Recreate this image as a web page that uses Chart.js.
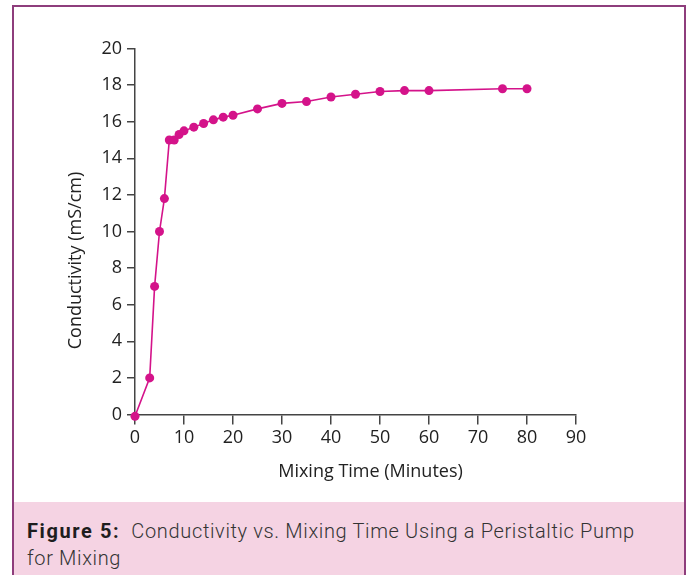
<!DOCTYPE html>
<html>
<head>
<meta charset="utf-8">
<script src="https://cdn.jsdelivr.net/npm/chart.js@4"></script>
<style>
  html, body { margin: 0; padding: 0; background: #fff; }
  body { width: 687px; height: 575px; overflow: hidden; position: relative; }
  #frame {
    position: absolute; left: 12px; top: 5px;
    width: 670px; height: 590px;
    border: 2px solid #8e3d7c; border-bottom: none;
    background: #fff;
  }
  #grafico { position: absolute; left: 0; top: 0; }
  #legenda {
    position: absolute; left: 0; top: 495px; width: 670px; height: 95px;
    background: #f5d3e3;
    box-sizing: border-box; padding: 16px 0 0 13px;
    font-family: Roboto, sans-serif; font-size: 20px; line-height: 27px;
    letter-spacing: 0.65px; font-weight: 300;
    color: #333;
  }
  #legenda b { color: #1e1e1e; font-weight: 700; letter-spacing: 1.6px; }
</style>
</head>
<body>
<div id="frame">
  <canvas id="grafico" width="670" height="495"></canvas>
  <div id="legenda"><b>Figure 5:</b>&nbsp; Conductivity vs. Mixing Time Using a Peristaltic Pump<br>for Mixing</div>
</div>
<script>
// Dados
const tempos = [0, 3, 4, 5, 6, 7, 8, 9, 10, 12, 14, 16, 18, 20, 25, 30, 35, 40, 45, 50, 55, 60, 75, 80];
const condutividade = [-0.1, 2, 7, 10, 11.8, 15, 15, 15.3, 15.5, 15.7, 15.9, 16.1, 16.25, 16.35, 16.7, 17.0, 17.1, 17.35, 17.5, 17.65, 17.7, 17.7, 17.8, 17.8];
const tituloX = 'Mixing Time (Minutes)';
const tituloY = 'Conductivity (mS/cm)';

const corSerie = '#d4138a';
const corEixo = '#444';
const fonte = '"Open Sans", sans-serif';

// Títulos dos eixos desenhados à mão (no original não ficam centrados)
const titulosEixos = {
    id: 'titulosEixos',
    afterDraw(chart) {
        const { ctx, chartArea } = chart;
        ctx.save();
        ctx.fillStyle = '#222';
        ctx.textAlign = 'center';
        ctx.textBaseline = 'middle';
        ctx.font = '18px ' + fonte;
        ctx.fillText(tituloX, (chartArea.left + chartArea.right) / 2 + 15, chartArea.bottom + 57);
        ctx.translate(chartArea.left - 59, (chartArea.top + chartArea.bottom) / 2 + 29);
        ctx.rotate(-Math.PI / 2);
        ctx.fillText(tituloY, 0, 0);
        ctx.restore();
    }
};

function criarGrafico() {
    let ctx = document.getElementById('grafico').getContext('2d');

    new Chart(ctx, {
        type: 'line',
        data: {
            datasets: [{
                data: tempos.map((t, i) => ({ x: t, y: condutividade[i] })),
                borderColor: corSerie,
                backgroundColor: corSerie,
                borderWidth: 1.6,
                pointRadius: 4.5,
                pointBorderWidth: 0,
                pointHoverRadius: 4.5,
                tension: 0,
                clip: false
            }]
        },
        options: {
            responsive: false,
            animation: false,
            layout: { padding: { top: 41.5, right: 108, left: 0, bottom: 0 } },
            plugins: {
                legend: { display: false },
                tooltip: { enabled: false }
            },
            scales: {
                x: {
                    type: 'linear',
                    min: 0,
                    max: 90,
                    afterFit: (scale) => { scale.height = 87.5; },
                    ticks: { stepSize: 10, color: '#222', font: { family: fonte, size: 18 }, padding: 3, maxRotation: 0 },
                    grid: { drawOnChartArea: false, tickLength: 10, color: corEixo, lineWidth: 1.5 },
                    border: { color: corEixo, width: 1.5 }
                },
                y: {
                    min: 0,
                    max: 20,
                    afterFit: (scale) => { scale.width = 121; },
                    ticks: { stepSize: 2, color: '#222', font: { family: fonte, size: 18 }, padding: 5 },
                    grid: { drawOnChartArea: false, tickLength: 8, color: corEixo, lineWidth: 1.5 },
                    border: { color: corEixo, width: 1.5 }
                }
            }
        },
        plugins: [titulosEixos]
    });
}

document.addEventListener('DOMContentLoaded', () => {
    criarGrafico();
});
</script>
</body>
</html>
